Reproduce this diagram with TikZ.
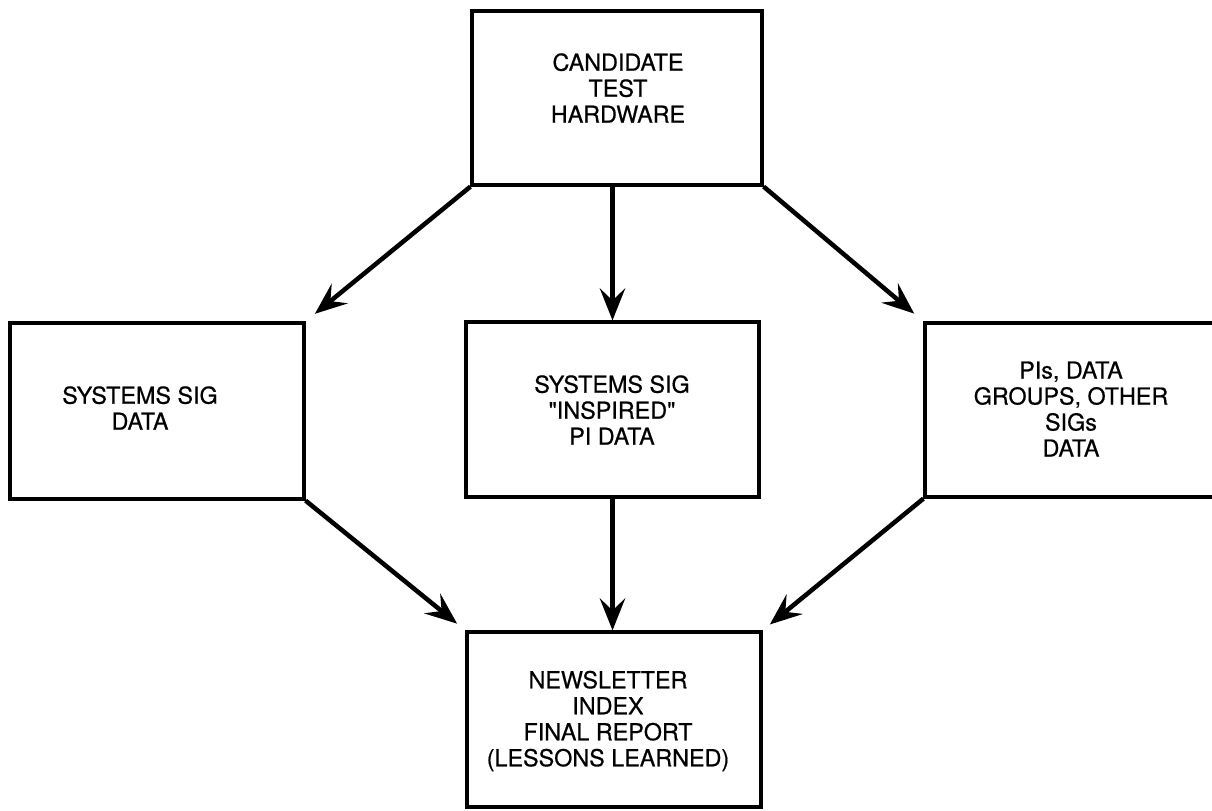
\documentclass[tikz,border=0pt]{standalone}
\usepackage{fontspec}
\setmainfont{TeX Gyre Heros}[FakeBold=0.6]
\newfontfamily\qf{TeX Gyre Heros}[FakeBold=0.6]
\usetikzlibrary{arrows.meta}
\begin{document}
\begin{tikzpicture}[x=0.75pt,y=-0.75pt,
  box/.style={draw, line width=2.4pt, rectangle, inner sep=0pt},
  lbl/.style={align=center, font=\fontsize{17.5}{19.5}\selectfont, inner sep=0pt},
  arr/.style={line width=3.4pt, -{Stealth[length=24pt,width=19pt,inset=9pt]}}]
\useasboundingbox (0,0) rectangle (1212,810);
\begin{scope}
\clip (0,0) rectangle (1212,810);
\node[box, minimum width=217.5pt, minimum height=130.5pt] (top) at (617,98) {};
\node[box, minimum width=220.5pt, minimum height=132pt] (left) at (157,411) {};
\node[box, minimum width=219.75pt, minimum height=131.25pt] (mid) at (612.5,409.5) {};
\node[box, minimum width=218.25pt, minimum height=130.5pt] (right) at (1070.5,410) {};
\node[box, minimum width=220.5pt, minimum height=131.25pt] (bot) at (614,719.5) {};
\end{scope}
\node[lbl] (ttop) at (618,88) {CANDIDATE\\TEST\\HARDWARE};
\node[lbl] (tleft) at (140,408) {SYSTEMS SIG\\DATA};
\node[lbl] (tmid) at (612,410) {SYSTEMS SIG\\{\qf "INSPIRED"}\\PI DATA};
\node[lbl] (tright) at (1071,409) {PIs, DATA\\GROUPS, OTHER\\SIGs\\DATA};
\node[lbl] (tbot) at (608,721) {NEWSLETTER\\INDEX\\FINAL REPORT\\(LESSONS LEARNED)};
\draw[arr, shorten >=9pt] (top.south west) -- (left.north east);
\draw[arr] (mid.north |- top.south) -- (mid.north);
\draw[arr, shorten >=9pt] (top.south east) -- (right.north west);
\draw[arr, shorten >=8pt] (left.south east) -- (bot.north west);
\draw[arr] (mid.south) -- (mid.south |- bot.north);
\draw[arr, shorten >=7pt] (right.south west) -- (bot.north east);
\end{tikzpicture}
\end{document}
